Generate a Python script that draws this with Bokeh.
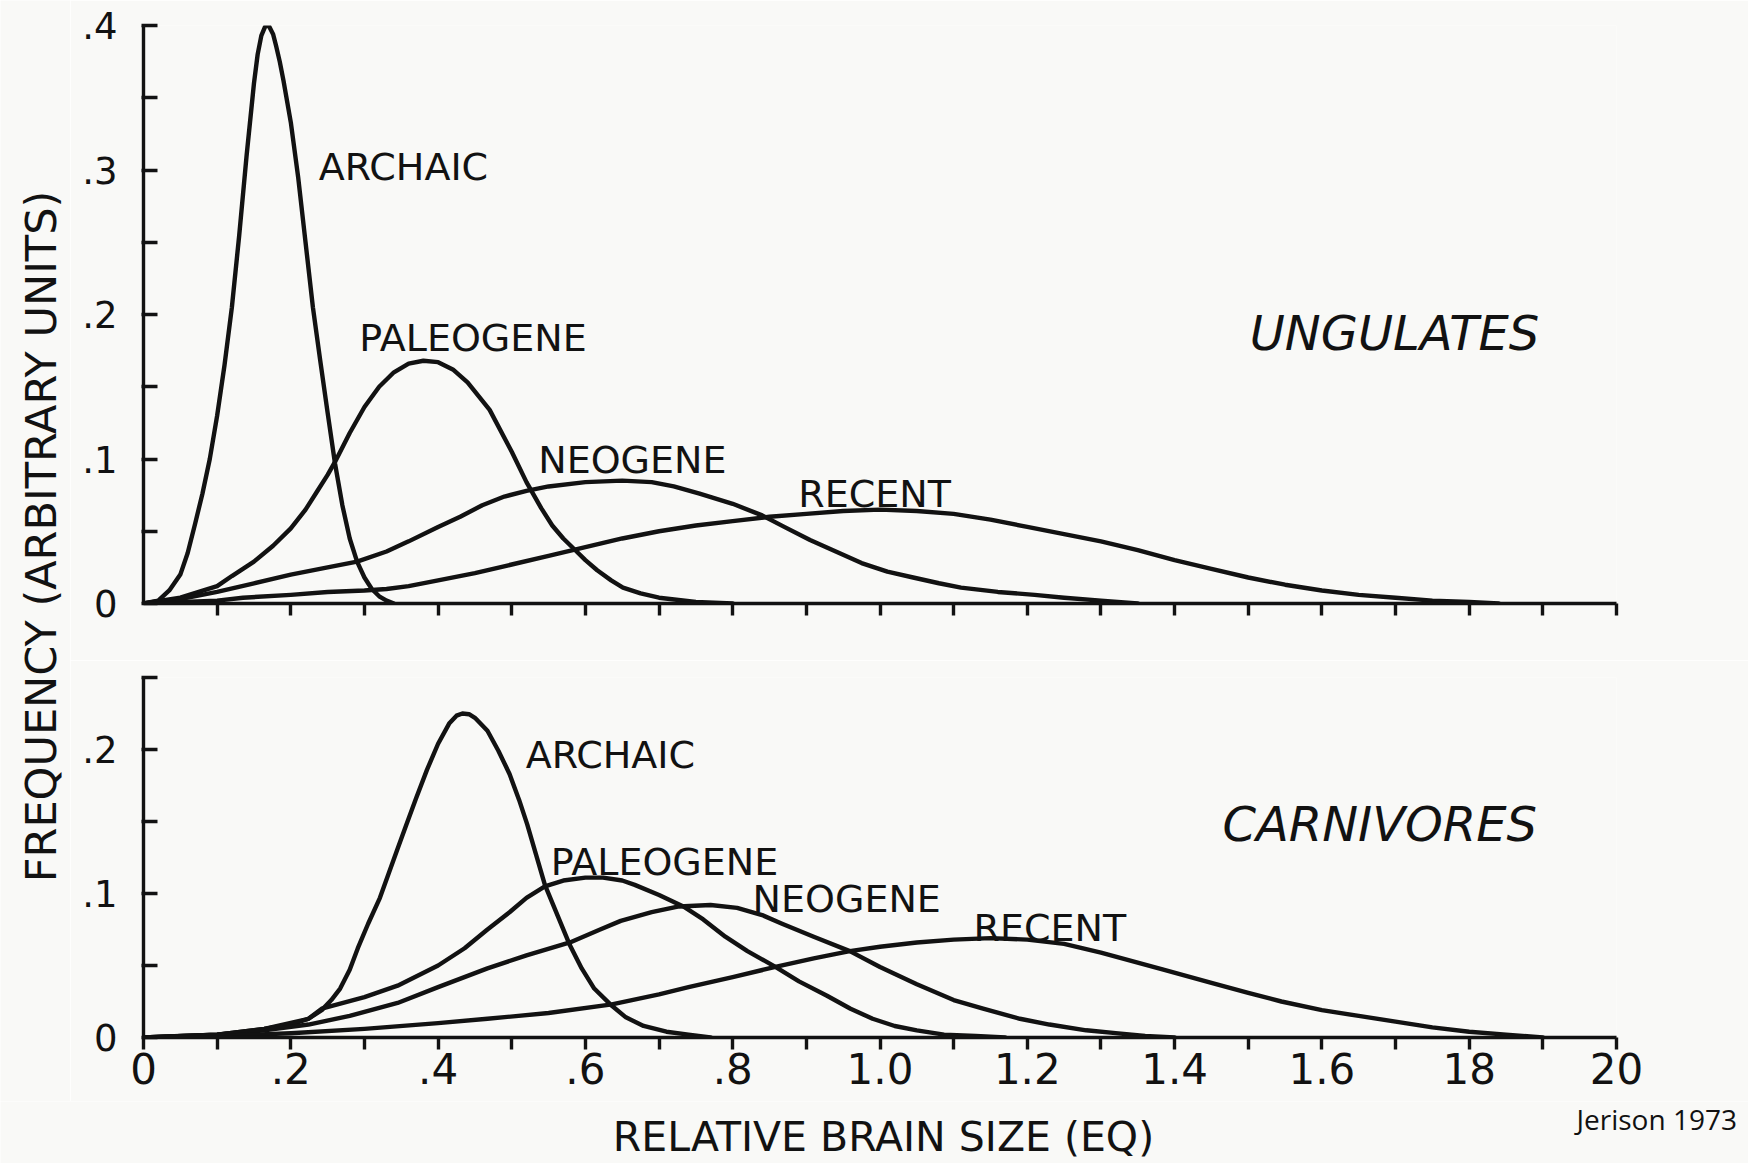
from math import pi

from bokeh.core.properties import value
from bokeh.embed import file_html
from bokeh.layouts import column, row
from bokeh.models import ColumnDataSource, FixedTicker, Range1d
from bokeh.plotting import figure
from bokeh.resources import INLINE

# Ungulates
ung_archaic_x = [0.0, 0.02, 0.035, 0.05, 0.06, 0.07, 0.08, 0.09, 0.10, 0.11, 0.12, 0.13,
                 0.14, 0.15, 0.155, 0.16, 0.165, 0.168, 0.171, 0.176, 0.18, 0.185, 0.19, 0.20,
                 0.21, 0.22, 0.23, 0.24, 0.25, 0.26, 0.27, 0.28, 0.29, 0.30, 0.31, 0.32,
                 0.33, 0.34]
ung_archaic_y = [0.0, 0.002, 0.009, 0.020, 0.035, 0.055, 0.076, 0.100, 0.130, 0.165, 0.205, 0.255,
                 0.310, 0.360, 0.380, 0.393, 0.399, 0.400, 0.399, 0.394, 0.386, 0.375, 0.362, 0.333,
                 0.295, 0.250, 0.205, 0.168, 0.132, 0.097, 0.068, 0.045, 0.029, 0.018, 0.010, 0.005,
                 0.002, 0.0]

ung_paleogene_x = [0.0, 0.05, 0.10, 0.12, 0.15, 0.176, 0.20, 0.22, 0.235, 0.25, 0.26, 0.28,
                   0.30, 0.32, 0.34, 0.36, 0.38, 0.40, 0.42, 0.44, 0.47, 0.50, 0.52, 0.54,
                   0.555, 0.57, 0.586, 0.60, 0.616, 0.635, 0.651, 0.675, 0.70, 0.75, 0.80]
ung_paleogene_y = [0.0, 0.004, 0.012, 0.019, 0.029, 0.040, 0.052, 0.065, 0.077, 0.089, 0.098, 0.118,
                   0.136, 0.150, 0.160, 0.166, 0.168, 0.167, 0.162, 0.153, 0.134, 0.105, 0.084, 0.066,
                   0.054, 0.045, 0.037, 0.030, 0.023, 0.016, 0.011, 0.007, 0.004, 0.001, 0.0]

ung_neogene_x = [0.0, 0.05, 0.10, 0.15, 0.20, 0.25, 0.29, 0.33, 0.36, 0.40, 0.43, 0.46,
                 0.49, 0.52, 0.55, 0.60, 0.65, 0.69, 0.72, 0.755, 0.80, 0.84, 0.87, 0.905,
                 0.94, 0.975, 1.01, 1.045, 1.08, 1.11, 1.16, 1.21, 1.25, 1.30, 1.35]
ung_neogene_y = [0.0, 0.003, 0.008, 0.014, 0.020, 0.025, 0.029, 0.036, 0.043, 0.053, 0.060, 0.068,
                 0.074, 0.078, 0.081, 0.084, 0.085, 0.084, 0.081, 0.076, 0.069, 0.061, 0.053, 0.044,
                 0.036, 0.028, 0.022, 0.018, 0.014, 0.011, 0.008, 0.006, 0.004, 0.002, 0.0]

ung_recent_x = [0.0, 0.10, 0.135, 0.20, 0.25, 0.30, 0.33, 0.36, 0.40, 0.45, 0.50, 0.55,
                0.60, 0.65, 0.70, 0.75, 0.80, 0.85, 0.90, 0.95, 1.00, 1.05, 1.10, 1.15,
                1.20, 1.25, 1.30, 1.35, 1.40, 1.45, 1.50, 1.55, 1.60, 1.65, 1.70, 1.75,
                1.80, 1.84]
ung_recent_y = [0.0, 0.002, 0.004, 0.006, 0.008, 0.009, 0.010, 0.012, 0.016, 0.021, 0.027, 0.033,
                0.039, 0.045, 0.050, 0.054, 0.057, 0.060, 0.062, 0.064, 0.065, 0.064, 0.062, 0.058,
                0.053, 0.048, 0.043, 0.037, 0.030, 0.024, 0.018, 0.013, 0.009, 0.006, 0.004, 0.002,
                0.001, 0.0]

# Carnivores
car_archaic_x = [0.0, 0.05, 0.10, 0.164, 0.20, 0.224, 0.242, 0.255, 0.267, 0.28, 0.291, 0.305,
                 0.321, 0.333, 0.345, 0.357, 0.37, 0.385, 0.40, 0.415, 0.425, 0.433, 0.442, 0.45,
                 0.467, 0.482, 0.497, 0.51, 0.521, 0.533, 0.545, 0.562, 0.579, 0.595, 0.612, 0.636,
                 0.655, 0.679, 0.71, 0.74, 0.77]
car_archaic_y = [0.0, 0.001, 0.002, 0.006, 0.009, 0.013, 0.019, 0.026, 0.034, 0.047, 0.062, 0.079,
                 0.097, 0.114, 0.131, 0.148, 0.166, 0.186, 0.204, 0.218, 0.2235, 0.225, 0.2245, 0.222,
                 0.213, 0.199, 0.183, 0.165, 0.148, 0.127, 0.106, 0.085, 0.064, 0.048, 0.034, 0.022,
                 0.014, 0.008, 0.004, 0.002, 0.0]

car_paleogene_x = [0.0, 0.10, 0.164, 0.224, 0.242, 0.30, 0.345, 0.40, 0.436, 0.467, 0.497, 0.52,
                   0.545, 0.57, 0.60, 0.624, 0.65, 0.667, 0.70, 0.733, 0.76, 0.79, 0.82, 0.858,
                   0.89, 0.928, 0.96, 0.99, 1.02, 1.05, 1.087, 1.13, 1.17]
car_paleogene_y = [0.0, 0.002, 0.006, 0.013, 0.020, 0.028, 0.036, 0.050, 0.062, 0.075, 0.087, 0.097,
                   0.105, 0.109, 0.111, 0.111, 0.109, 0.106, 0.099, 0.091, 0.082, 0.070, 0.060, 0.049,
                   0.039, 0.029, 0.020, 0.013, 0.008, 0.005, 0.002, 0.001, 0.0]

car_neogene_x = [0.0, 0.10, 0.164, 0.224, 0.28, 0.345, 0.40, 0.467, 0.52, 0.579, 0.62, 0.648,
                 0.69, 0.727, 0.77, 0.806, 0.84, 0.867, 0.91, 0.959, 1.00, 1.05, 1.10, 1.14,
                 1.19, 1.23, 1.28, 1.32, 1.36, 1.40]
car_neogene_y = [0.0, 0.002, 0.005, 0.009, 0.015, 0.024, 0.035, 0.048, 0.057, 0.066, 0.075, 0.081,
                 0.087, 0.091, 0.092, 0.090, 0.085, 0.079, 0.070, 0.060, 0.049, 0.037, 0.026, 0.020,
                 0.013, 0.009, 0.005, 0.003, 0.001, 0.0]

car_recent_x = [0.0, 0.10, 0.20, 0.30, 0.40, 0.467, 0.55, 0.636, 0.70, 0.74, 0.80, 0.858,
                0.91, 0.959, 1.00, 1.05, 1.10, 1.15, 1.20, 1.25, 1.30, 1.386, 1.45, 1.50,
                1.545, 1.60, 1.65, 1.70, 1.75, 1.80, 1.85, 1.90]
car_recent_y = [0.0, 0.001, 0.003, 0.006, 0.010, 0.013, 0.017, 0.023, 0.030, 0.035, 0.042, 0.049,
                0.055, 0.060, 0.063, 0.066, 0.068, 0.069, 0.068, 0.065, 0.059, 0.047, 0.038, 0.031,
                0.025, 0.019, 0.015, 0.011, 0.007, 0.004, 0.002, 0.0]

# Axis ticks and their printed labels
x_ticks = [0.0, 0.1, 0.2, 0.3, 0.4, 0.5, 0.6, 0.7, 0.8, 0.9, 1.0,
           1.1, 1.2, 1.3, 1.4, 1.5, 1.6, 1.7, 1.8, 1.9, 2.0]
x_tick_labels = ["0", "", ".2", "", ".4", "", ".6", "", ".8", "", "1.0",
                 "", "1.2", "", "1.4", "", "1.6", "", "18", "", "20"]
ung_y_ticks = [0.0, 0.05, 0.1, 0.15, 0.2, 0.25, 0.3, 0.35, 0.4]
ung_y_labels = ["0", "", ".1", "", ".2", "", ".3", "", ".4"]
car_y_ticks = [0.0, 0.05, 0.1, 0.15, 0.2, 0.25]
car_y_labels = ["0", "", ".1", "", ".2", ""]

series_names = ["ARCHAIC", "PALEOGENE", "NEOGENE", "RECENT"]

# Where each curve name is lettered (data units, left edge / baseline)
ung_name_x = [0.238, 0.293, 0.536, 0.889]
ung_name_y = [0.302, 0.184, 0.099, 0.076]
car_name_x = [0.519, 0.553, 0.827, 1.127]
car_name_y = [0.196, 0.122, 0.096, 0.076]

FONT = "DejaVu Sans"
INK = "#121212"
PAPER = "#f9f9f7"
W, H = 1748, 1163
LEFT_COL = 70
PANEL_W = W - LEFT_COL
FOOT_H = 62


def blank(width, height):
    """A bare plot whose data units are its own pixels."""
    f = figure(width=width, height=height, x_range=Range1d(0, width),
               y_range=Range1d(0, height), output_backend="svg", toolbar_location=None,
               x_axis_type=None, y_axis_type=None, title=None,
               min_border_left=0, min_border_right=0, min_border_top=0, min_border_bottom=0)
    f.grid.visible = False
    f.outline_line_color = None
    f.background_fill_color = PAPER
    f.border_fill_color = PAPER
    return f


def panel(height, ymax, yticks, ylabels, top, bottom, show_x_labels):
    p = figure(width=PANEL_W, height=height,
               x_range=Range1d(0, 2.0), y_range=Range1d(0, ymax),
               output_backend="svg", toolbar_location=None, title=None,
               min_border_left=143 - LEFT_COL, min_border_right=132,
               min_border_top=top, min_border_bottom=bottom)
    p.grid.visible = False
    p.outline_line_color = None
    p.background_fill_color = PAPER
    p.border_fill_color = PAPER

    xa = p.xaxis[0]
    xa.ticker = FixedTicker(ticks=x_ticks if show_x_labels else x_ticks[1:])
    if show_x_labels:
        xa.major_label_overrides = dict(zip(x_ticks, x_tick_labels))
    else:
        xa.major_label_overrides = {t: "" for t in x_ticks[1:]}
    xa.major_tick_out = 12
    xa.major_tick_in = 0
    xa.minor_tick_out = 0
    xa.minor_tick_in = 0
    xa.major_label_standoff = 3 if show_x_labels else 0
    xa.major_label_text_font = FONT
    xa.major_label_text_font_size = "42px" if show_x_labels else "8px"
    xa.major_label_text_color = INK

    ya = p.yaxis[0]
    ya.ticker = FixedTicker(ticks=yticks)
    ya.major_label_overrides = dict(zip(yticks, ylabels))
    ya.major_tick_in = 14
    ya.major_tick_out = 2
    ya.minor_tick_out = 0
    ya.minor_tick_in = 0
    ya.major_label_standoff = 24
    ya.major_label_text_font = FONT
    ya.major_label_text_font_size = "37px"
    ya.major_label_text_color = INK

    for ax in (xa, ya):
        ax.axis_line_width = 3.4
        ax.axis_line_color = INK
        ax.major_tick_line_width = 3.4
        ax.major_tick_line_color = INK
    return p


def draw_curves(p, curves, name_x, name_y, group, gx, gy):
    for xs, ys in curves:
        p.line(xs, ys, line_width=4.4, line_color=INK, line_join="round", line_cap="round")
    src = ColumnDataSource(dict(x=name_x, y=name_y, t=series_names))
    p.text(x="x", y="y", text="t", source=src, text_font=value(FONT),
           text_font_size=value("38px"), text_color=INK,
           text_align="left", text_baseline="alphabetic")
    p.text(x=[gx], y=[gy], text=[group], text_font=value(FONT),
           text_font_size=value("48px"), text_font_style="italic", text_color=INK,
           text_align="left", text_baseline="alphabetic")


top = panel(660, 0.4, ung_y_ticks, ung_y_labels, 25, 57, False)
draw_curves(top,
            [(ung_archaic_x, ung_archaic_y), (ung_paleogene_x, ung_paleogene_y),
             (ung_neogene_x, ung_neogene_y), (ung_recent_x, ung_recent_y)],
            ung_name_x, ung_name_y, "UNGULATES", 1.502, 0.187)

bottom_h = H - 660 - FOOT_H
bottom = panel(bottom_h, 0.25, car_y_ticks, car_y_labels, 17, bottom_h - 17 - 360, True)
draw_curves(bottom,
            [(car_archaic_x, car_archaic_y), (car_paleogene_x, car_paleogene_y),
             (car_neogene_x, car_neogene_y), (car_recent_x, car_recent_y)],
            car_name_x, car_name_y, "CARNIVORES", 1.465, 0.148)

# Shared vertical title to the left of both panels
side_h = H - FOOT_H
side = blank(LEFT_COL, side_h)
side.text(x=[40], y=[side_h - 536], text=["FREQUENCY (ARBITRARY UNITS)"], angle=pi / 2,
          text_font=value(FONT), text_font_size=value("43px"), text_color=INK,
          text_align="center", text_baseline="middle")

# Axis title and source note across the full width (pixel units)
foot = blank(W, FOOT_H)
foot.text(x=[883], y=[27], text=["RELATIVE BRAIN SIZE (EQ)"],
          text_font=value(FONT), text_font_size=value("41px"), text_color=INK,
          text_align="center", text_baseline="middle")
foot.text(x=[1576], y=[FOOT_H - 17], text=["Jerison 1973"],
          text_font=value("Open Sans"), text_font_size=value("28px"), text_color="#111111",
          text_align="left", text_baseline="middle")

layout = column(row(side, column(top, bottom)), foot)
open("out.html", "w").write(file_html(layout, INLINE))
